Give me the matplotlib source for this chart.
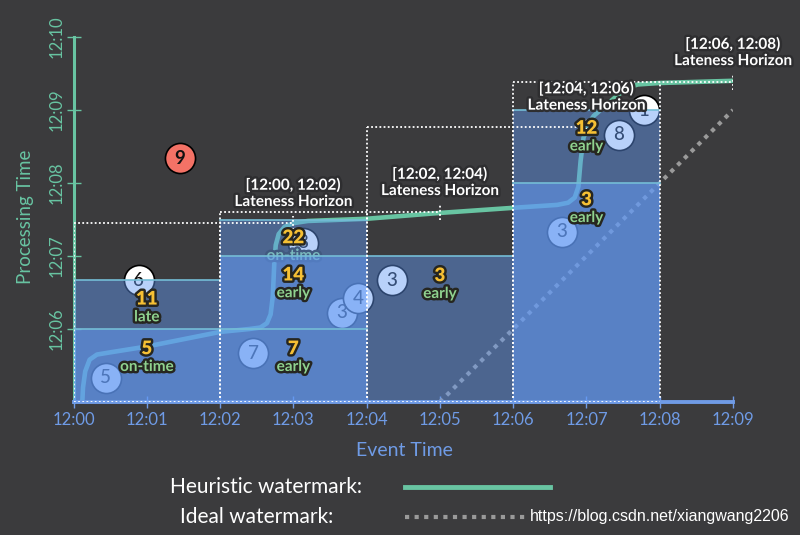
import matplotlib
matplotlib.use('Agg')
import matplotlib.pyplot as plt
import matplotlib.patheffects as pe
from matplotlib.lines import Line2D
from matplotlib.patches import Rectangle

# ---------------- data ----------------
x_ticks = [0, 1, 2, 3, 4, 5, 6, 7, 8, 9]
x_tick_labels = ['12:00', '12:01', '12:02', '12:03', '12:04', '12:05', '12:06', '12:07', '12:08', '12:09']
y_ticks = [6, 7, 8, 9, 10]
y_tick_labels = ['12:06', '12:07', '12:08', '12:09', '12:10']

# heuristic watermark (event time, processing time) in minutes after 12:00
wm_event = [0.12, 0.13, 0.16, 0.22, 0.32, 0.5, 1.0, 1.5, 2.0, 2.4, 2.55, 2.64, 2.69, 2.72, 2.74, 2.76,
            2.8, 2.88, 3.0, 3.2, 4.0, 5.0, 6.0, 6.6, 6.75, 6.84, 6.89, 6.92, 6.96, 7.02, 7.1, 7.25,
            7.4, 7.55, 7.7, 8.0, 9.0]
wm_proc = [5.0, 5.2, 5.42, 5.58, 5.65, 5.68, 5.76, 5.86, 5.96, 6.0, 6.02, 6.08, 6.2, 6.45, 6.9, 7.15,
           7.3, 7.4, 7.45, 7.48, 7.51, 7.59, 7.66, 7.7, 7.73, 7.8, 7.95, 8.3, 8.62, 8.8, 8.92, 9.05,
           9.18, 9.3, 9.35, 9.37, 9.4]
ideal_event = [5, 9]
ideal_proc = [5, 9]

# windows
win_start = [0, 2, 4, 6]
win_len = 2
light_top = [6.0, 7.0, 5.0, 8.0]      # lighter panes (5:00 .. light_top)
dark_top = [6.67, 7.5, 7.0, 9.0]      # darker panes (light_top .. dark_top)
extra_pane_lines = [(2, 6.0)]         # (window start, processing time)
horizon = [7.45, 7.6, 8.77, 9.38]     # lateness horizon (processing time)
horizon_labels = ['[12:00, 12:02)', '[12:02, 12:04)', '[12:04, 12:06)', '[12:06, 12:08)']

# input elements
pt_event = [0.44, 0.89, 1.45, 2.45, 3.13, 3.66, 3.88, 4.34, 6.66, 7.44, 7.78]
pt_proc = [5.33, 6.67, 8.34, 5.67, 7.18, 6.22, 6.42, 6.67, 7.33, 8.66, 9.0]
pt_value = [5, 6, 9, 7, 8, 3, 4, 3, 3, 8, 1]
pt_dropped = [False, False, True, False, False, False, False, False, False, False, False]

# pane results
res_event = [1.0, 1.0, 3.0, 3.0, 3.0, 5.0, 7.0, 7.0]
res_proc = [5.73, 6.41, 5.73, 6.74, 7.25, 6.73, 7.77, 8.75]
res_value = ['5', '11', '7', '14', '22', '3', '3', '12']
res_timing = ['on-time', 'late', 'early', 'early', 'on-time', 'early', 'early', 'early']
res_muted = [False, False, False, False, True, False, False, False]

# ---------------- style ----------------
BG = '#3b3b3d'
GREEN = '#68c4a2'
BLUE = '#6f9be6'
FILL = '#6299f4'
PANE_LINE = '#74bdd6'
YELLOW = '#f6c034'
LGREEN = '#8fd28f'
STROKE = '#262620'
FONT = ['Lato', 'DejaVu Sans']

plt.rcParams['font.family'] = FONT

fig = plt.figure(figsize=(8, 5.35), dpi=100, facecolor=BG)
ax = fig.add_axes([73.5 / 800, 133 / 535, 659.5 / 800, 365 / 535])
ax.set_facecolor(BG)
ax.set_xlim(0, 9)
ax.set_ylim(5, 10)

for s in ['top', 'right']:
    ax.spines[s].set_visible(False)
ax.spines['left'].set_color(GREEN)
ax.spines['left'].set_linewidth(2.2)
ax.spines['bottom'].set_color(BLUE)
ax.spines['bottom'].set_linewidth(2.8)
ax.spines['left'].set_zorder(1.5)
ax.spines['bottom'].set_zorder(6)

ax.set_xticks(x_ticks)
ax.set_xticklabels(x_tick_labels)
ax.set_yticks(y_ticks)
ax.set_yticklabels(y_tick_labels, rotation=90, va='center')
ax.tick_params(axis='x', colors=BLUE, direction='inout', length=8, width=1, pad=3, labelsize=12)
ax.tick_params(axis='y', colors=GREEN, direction='inout', length=10, width=1, pad=1.5, labelsize=12)

# watermarks (under the panes)
ax.plot(wm_event, wm_proc, color=GREEN, lw=3.3, zorder=2, solid_capstyle='butt')
ax.plot(ideal_event, ideal_proc, color='#9a9a9a', lw=3, linestyle=(0, (1, 1.3)), zorder=2)

# input circles (under the panes)
for x, y, v, d in zip(pt_event, pt_proc, pt_value, pt_dropped):
    ax.scatter([x], [y], s=470, facecolor='#f47266' if d else 'white', edgecolor='black',
               linewidth=1.2, zorder=3)
    ax.text(x, y, str(v), ha='center', va='center', fontsize=13.5, color='#111111',
            zorder=3.1, fontweight='bold' if d else 'medium')

# panes
for i, a in enumerate(win_start):
    if light_top[i] > 5:
        ax.add_patch(Rectangle((a, 5), win_len, light_top[i] - 5, facecolor=FILL,
                               alpha=0.75, lw=0, zorder=4))
    ax.add_patch(Rectangle((a, light_top[i]), win_len, dark_top[i] - light_top[i],
                           facecolor=FILL, alpha=0.45, lw=0, zorder=4))
    for yy in (light_top[i], dark_top[i]):
        if yy > 5:
            ax.plot([a, a + win_len], [yy, yy], color=PANE_LINE, lw=1.2, zorder=4.5)
for a, yy in extra_pane_lines:
    ax.plot([a, a + win_len], [yy, yy], color=PANE_LINE, lw=1.2, zorder=4.5)

# lateness horizon dotted outlines
dot = dict(color='white', lw=1.3, linestyle=(0, (1, 1.3)), zorder=5)
for i, a in enumerate(win_start):
    h = horizon[i]
    ax.plot([a, a], [5, h], **dot)
    ax.plot([a + win_len, a + win_len], [5, h], **dot)
    ax.plot([a, a + win_len + 1], [h, h], **dot)
    ax.plot([a + win_len + 1, a + win_len + 1], [h - 0.1, h + 0.1], **dot)
ax.plot([0, 8], [5, 5], color='white', lw=1.3, linestyle=(0, (1, 1.3)), zorder=7)

stroke = [pe.withStroke(linewidth=3.5, foreground=STROKE)]
stroke_w = [pe.withStroke(linewidth=3.5, foreground='#2e2e30')]

for i, a in enumerate(win_start):
    x = a + win_len + 1
    ax.text(x, horizon[i] + 0.52, horizon_labels[i], ha='center', va='center', fontsize=11,
            fontweight='bold', color='white', path_effects=stroke_w, zorder=8, clip_on=False)
    ax.text(x, horizon[i] + 0.29, 'Lateness Horizon', ha='center', va='center', fontsize=11,
            fontweight='bold', color='white', path_effects=stroke_w, zorder=8, clip_on=False)

for x, y, v, t, m in zip(res_event, res_proc, res_value, res_timing, res_muted):
    ax.text(x, y, v, ha='center', va='center', fontsize=13.5, fontweight='heavy', color=YELLOW,
            path_effects=stroke, zorder=8)
    ax.text(x, y - 0.25, t, ha='center', va='center', fontsize=11, fontweight='bold',
            color=LGREEN, path_effects=stroke, zorder=3.5 if m else 8)

# axis labels
fig.text(404 / 800, 1 - 451 / 535, 'Event Time', color=BLUE, fontsize=14, ha='center', va='center')
fig.text(25 / 800, 1 - 217 / 535, 'Processing Time', color=GREEN, fontsize=13.5, ha='center',
         va='center', rotation=90)

# legend
fig.text(362 / 800, 1 - 487 / 535, 'Heuristic watermark:', color='white', fontsize=15,
         ha='right', va='center')
fig.text(333 / 800, 1 - 517 / 535, 'Ideal watermark:', color='white', fontsize=15,
         ha='right', va='center')
fig.add_artist(Line2D([405 / 800, 550 / 800], [1 - 487 / 535, 1 - 487 / 535], color=GREEN,
                      lw=3.5, transform=fig.transFigure))
fig.add_artist(Line2D([405 / 800, 528 / 800], [1 - 517 / 535, 1 - 517 / 535], color='#9a9a9a',
                      lw=3, linestyle=(0, (1, 1.3)), transform=fig.transFigure))
fig.text(530 / 800, 1 - 517 / 535, 'https://blog.csdn.net/xiangwang2206', color='white',
         fontsize=11.5, family=['Liberation Sans', 'DejaVu Sans'], ha='left', va='center')

fig.savefig('out.png', dpi=100, facecolor=BG)
